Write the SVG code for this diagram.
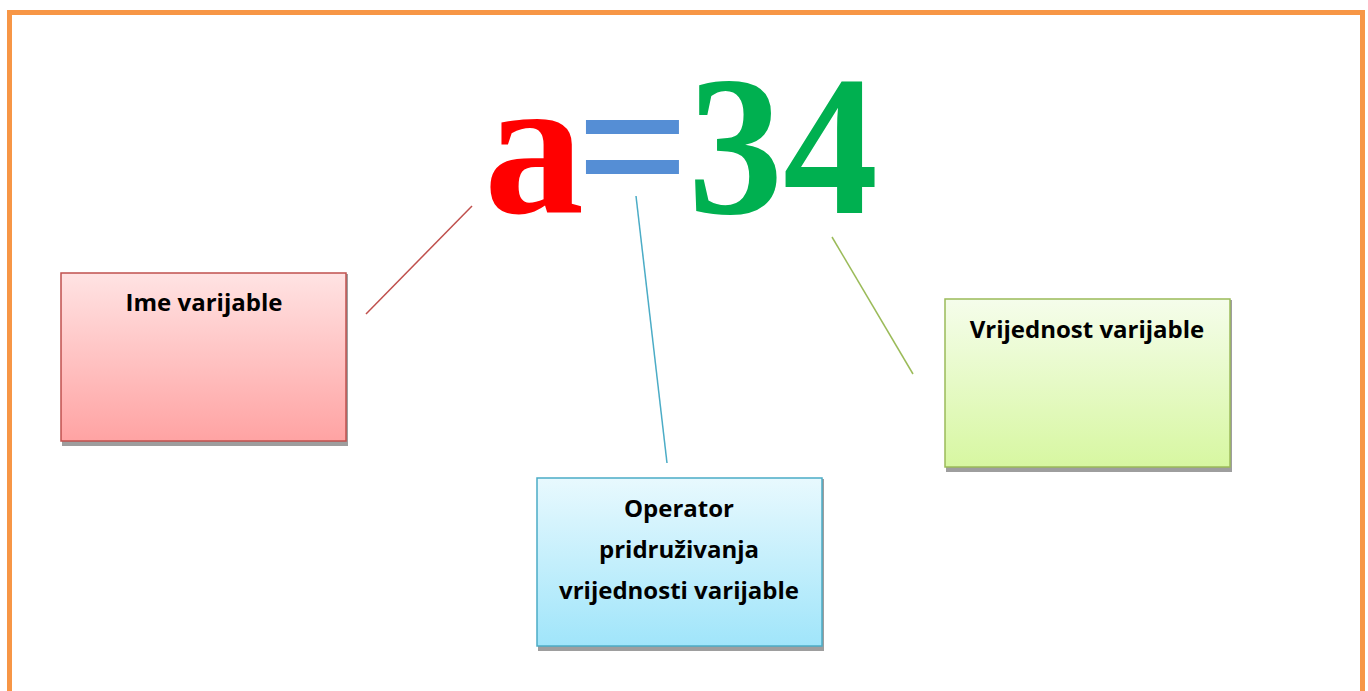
<svg xmlns="http://www.w3.org/2000/svg" width="1368" height="691" viewBox="0 0 1368 691">
  <defs>
    <linearGradient id="gRed" x1="0" y1="0" x2="0" y2="1">
      <stop offset="0" stop-color="#FFE3E3"/>
      <stop offset="1" stop-color="#FFA3A3"/>
    </linearGradient>
    <linearGradient id="gBlue" x1="0" y1="0" x2="0" y2="1">
      <stop offset="0" stop-color="#E8F9FE"/>
      <stop offset="1" stop-color="#A0E5FA"/>
    </linearGradient>
    <linearGradient id="gGreen" x1="0" y1="0" x2="0" y2="1">
      <stop offset="0" stop-color="#F5FDEB"/>
      <stop offset="1" stop-color="#D7F7A1"/>
    </linearGradient>
  </defs>
  <style>
    .shadow { fill: #9E9E9E; }
    .label { font-family: "Open Sans", "Noto Sans", "Liberation Sans", sans-serif; font-weight: bold; font-size: 24px; fill: #000; text-anchor: middle; }
    .big { font-family: "Liberation Serif", "Times New Roman", serif; font-weight: bold; font-size: 200px; }
    .link { stroke-width: 1.5; fill: none; }
  </style>

  <rect width="1368" height="691" fill="#FFFFFF"/>

  <!-- page frame -->
  <path d="M9.5 691 V12.5 H1362.5 V691" fill="none" stroke="#F79646" stroke-width="5"/>

  <!-- expression -->
  <g id="expression">
    <text class="big" x="484" y="213" fill="#FF0000">a</text>
    <text class="big" x="576" y="213" fill="#558ED5">=</text>
    <text class="big" x="688" y="213" fill="#00B050" textLength="190" lengthAdjust="spacingAndGlyphs">34</text>
  </g>

  <!-- connectors -->
  <g id="connectors">
    <line class="link" x1="366" y1="314" x2="472" y2="206" stroke="#C0504D"/>
    <line class="link" x1="636" y1="196" x2="667" y2="463" stroke="#4BACC6"/>
    <line class="link" x1="832" y1="237" x2="913" y2="374" stroke="#9BBB59"/>
  </g>

  <!-- name box -->
  <g id="node-name">
    <rect class="shadow" x="62" y="274" width="286" height="172"/>
    <rect x="61" y="273" width="285" height="168" fill="url(#gRed)" stroke="#C0504D" stroke-width="1.5"/>
    <text class="label" x="204" y="311">Ime varijable</text>
  </g>

  <!-- operator box -->
  <g id="node-operator">
    <rect class="shadow" x="538" y="479" width="286" height="172"/>
    <rect x="537" y="478" width="285" height="168" fill="url(#gBlue)" stroke="#4BACC6" stroke-width="1.5"/>
    <text class="label" x="679" y="517">Operator</text>
    <text class="label" x="679" y="558">pridruživanja</text>
    <text class="label" x="679" y="599">vrijednosti varijable</text>
  </g>

  <!-- value box -->
  <g id="node-value">
    <rect class="shadow" x="946" y="300" width="286" height="172"/>
    <rect x="945" y="299" width="285" height="168" fill="url(#gGreen)" stroke="#9BBB59" stroke-width="1.5"/>
    <text class="label" x="1087" y="338">Vrijednost varijable</text>
  </g>
</svg>
